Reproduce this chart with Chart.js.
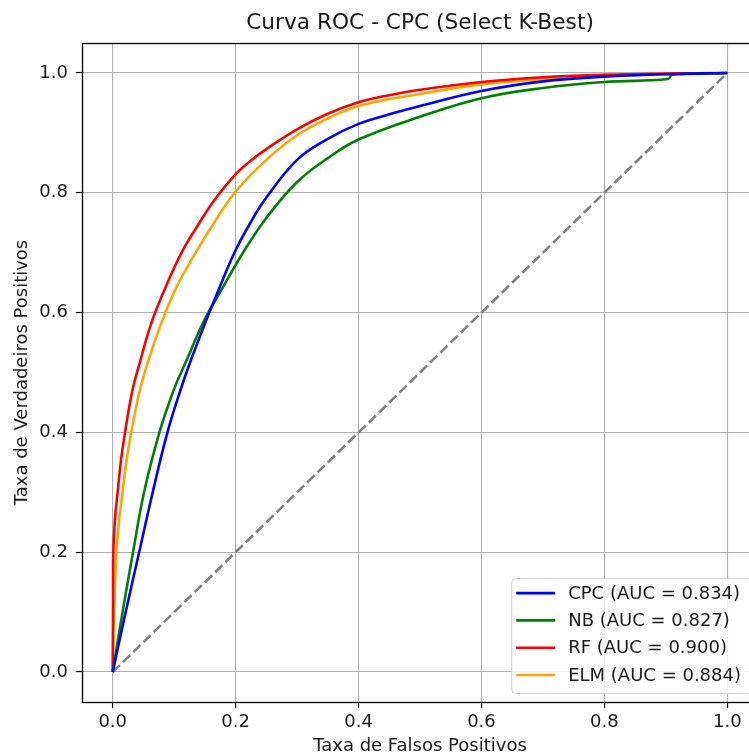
<!DOCTYPE html>
<html>
<head>
<meta charset="utf-8">
<script src="https://cdn.jsdelivr.net/npm/chart.js@4.4.1/dist/chart.umd.min.js"></script>
<style>
  html, body { margin: 0; padding: 0; background: #fff; overflow: hidden; }
  #wrap { width: 780px; height: 755px; }
</style>
</head>
<body>
<div id="wrap"><canvas id="rocChart" width="780" height="755"></canvas></div>
<script>
// ROC curves
const fprCPC = [0, 0.021, 0.043, 0.065, 0.089, 0.11, 0.127, 0.152, 0.173, 0.198, 0.224, 0.25, 0.3, 0.35, 0.4, 0.45, 0.5, 0.6, 0.7, 0.8, 0.9, 1];
const tprCPC = [0, 0.1, 0.2, 0.3, 0.4, 0.47, 0.52, 0.587, 0.64, 0.7, 0.75, 0.792, 0.855, 0.89, 0.915, 0.931, 0.945, 0.97, 0.986, 0.994, 0.998, 1];

const fprNB = [0, 0.016, 0.033, 0.051, 0.076, 0.099, 0.12, 0.149, 0.178, 0.212, 0.25, 0.3, 0.35, 0.4, 0.5, 0.6, 0.7, 0.8, 0.904, 0.91, 1];
const tprNB = [0, 0.1, 0.2, 0.3, 0.4, 0.47, 0.52, 0.587, 0.64, 0.7, 0.758, 0.818, 0.858, 0.889, 0.927, 0.958, 0.975, 0.985, 0.99, 0.997, 1];

const fprRF = [0, 0.0005, 0.001, 0.004, 0.008, 0.013, 0.02, 0.032, 0.045, 0.062, 0.085, 0.112, 0.135, 0.165, 0.2, 0.225, 0.25, 0.3, 0.35, 0.4, 0.45, 0.5, 0.6, 0.7, 0.8, 0.9, 1];
const tprRF = [0, 0.1, 0.2, 0.26, 0.3, 0.35, 0.4, 0.47, 0.52, 0.58, 0.64, 0.7, 0.74, 0.787, 0.831, 0.854, 0.873, 0.906, 0.932, 0.951, 0.963, 0.972, 0.985, 0.993, 0.997, 0.999, 1];

const fprELM = [0, 0.002, 0.006, 0.01, 0.016, 0.022, 0.03, 0.044, 0.058, 0.08, 0.105, 0.135, 0.165, 0.2, 0.25, 0.3, 0.35, 0.4, 0.5, 0.6, 0.7, 0.8, 0.9, 1];
const tprELM = [0, 0.1, 0.2, 0.25, 0.3, 0.35, 0.4, 0.47, 0.52, 0.585, 0.645, 0.7, 0.75, 0.802, 0.855, 0.896, 0.924, 0.945, 0.965, 0.981, 0.99, 0.995, 0.998, 1];

const modelNames = ["CPC", "NB", "RF", "ELM"];
const aucValues = [0.834, 0.827, 0.900, 0.884];
const modelColors = ["blue", "green", "red", "orange"];

const chanceLine = [0, 1];
const tickValues = [0, 0.2, 0.4, 0.6, 0.8, 1.0];

const FONT = "'DejaVu Sans', sans-serif";
const TEXT = "#1a1a1a";

function toPoints(xs, ys) {
    return xs.map((x, i) => ({ x: x, y: ys[i] }));
}

const curves = [
    toPoints(fprCPC, tprCPC),
    toPoints(fprNB, tprNB),
    toPoints(fprRF, tprRF),
    toPoints(fprELM, tprELM),
];

const datasets = curves.map((pts, i) => ({
    label: `${modelNames[i]} (AUC = ${aucValues[i].toFixed(3)})`,
    data: pts,
    showLine: true,
    borderColor: modelColors[i],
    backgroundColor: modelColors[i],
    borderWidth: 2.6,
    borderJoinStyle: "round",
    pointRadius: 0,
    tension: 0.4,
}));

datasets.push({
    label: "",
    data: toPoints(chanceLine, chanceLine),
    showLine: true,
    borderColor: "#808080",
    borderWidth: 2.6,
    borderDash: [10, 4.3],
    pointRadius: 0,
});

// frame round the plot area and the legend in the lower right corner
const frameAndLegend = {
    id: "frameAndLegend",
    afterDatasetsDraw(chart) {
        const ctx = chart.ctx;
        const area = chart.chartArea;
        ctx.save();
        ctx.strokeStyle = "#000";
        ctx.lineWidth = 1.3;
        ctx.strokeRect(Math.round(area.left) + 0.5, Math.round(area.top) + 0.5,
            Math.round(area.right - area.left), Math.round(area.bottom - area.top));

        const items = chart.data.datasets.filter(d => d.label);
        ctx.font = "18px " + FONT;
        let textW = 0;
        items.forEach(d => { textW = Math.max(textW, ctx.measureText(d.label).width); });
        const rowH = 27.3;
        const boxW = 5 + 39 + 13 + textW + 10;
        const boxH = 15 + rowH * (items.length - 1) + 18;
        const right = area.right - 7;
        const bottom = area.bottom - 9;
        const left = right - boxW;
        const top = bottom - boxH;

        ctx.beginPath();
        if (ctx.roundRect) {
            ctx.roundRect(left + 0.5, top + 0.5, boxW, boxH, 4);
        } else {
            ctx.rect(left + 0.5, top + 0.5, boxW, boxH);
        }
        ctx.fillStyle = "rgba(255,255,255,0.8)";
        ctx.fill();
        ctx.strokeStyle = "#d0d0d0";
        ctx.lineWidth = 1;
        ctx.stroke();

        ctx.textBaseline = "middle";
        ctx.textAlign = "left";
        items.forEach((d, i) => {
            const y = top + 15 + i * rowH;
            ctx.beginPath();
            ctx.moveTo(left + 5, y);
            ctx.lineTo(left + 44, y);
            ctx.strokeStyle = d.borderColor;
            ctx.lineWidth = 2.6;
            ctx.stroke();
            ctx.fillStyle = TEXT;
            ctx.fillText(d.label, left + 57, y + 1);
        });
        ctx.restore();
    },
};

const axisCommon = {
    type: "linear",
    min: -0.05,
    max: 1.05,
    afterBuildTicks: (axis) => {
        axis.ticks = tickValues.map(v => ({ value: v }));
    },
    grid: {
        color: "#b0b0b0",
        lineWidth: 1.1,
        tickColor: "#000",
        tickLength: 6,
        tickWidth: 1.2,
        drawTicks: true,
    },
    border: { display: false },
};

const ctx = document.getElementById("rocChart").getContext("2d");
new Chart(ctx, {
    type: "scatter",
    data: { datasets: datasets },
    options: {
        responsive: false,
        animation: false,
        devicePixelRatio: 1,
        layout: { padding: { left: 0, right: 22, top: 0, bottom: 0 } },
        plugins: {
            legend: { display: false },
            tooltip: { enabled: false },
            title: {
                display: true,
                text: "Curva ROC - CPC (Select K-Best)",
                fullSize: false,
                color: TEXT,
                font: { family: FONT, size: 21.7, weight: "normal", lineHeight: 1.2 },
                padding: { top: 10, bottom: 7 },
            },
        },
        scales: {
            x: {
                ...axisCommon,
                position: "bottom",
                afterFit: (scale) => { scale.height = 53; },
                ticks: {
                    color: TEXT,
                    padding: 4,
                    maxRotation: 0,
                    font: { family: FONT, size: 18 },
                    callback: (v) => Number(v).toFixed(1),
                },
                title: {
                    display: true,
                    text: "Taxa de Falsos Positivos",
                    color: TEXT,
                    font: { family: FONT, size: 18, lineHeight: 1 },
                    padding: { top: 0, bottom: 0 },
                },
            },
            y: {
                ...axisCommon,
                position: "left",
                afterFit: (scale) => { scale.width = 82; },
                ticks: {
                    color: TEXT,
                    padding: 8,
                    font: { family: FONT, size: 18 },
                    callback: (v) => Number(v).toFixed(1),
                },
                title: {
                    display: true,
                    text: "Taxa de Verdadeiros Positivos",
                    color: TEXT,
                    font: { family: FONT, size: 18, lineHeight: 1 },
                    padding: { top: 13, bottom: 0 },
                },
            },
        },
    },
    plugins: [frameAndLegend],
});
</script>
</body>
</html>
